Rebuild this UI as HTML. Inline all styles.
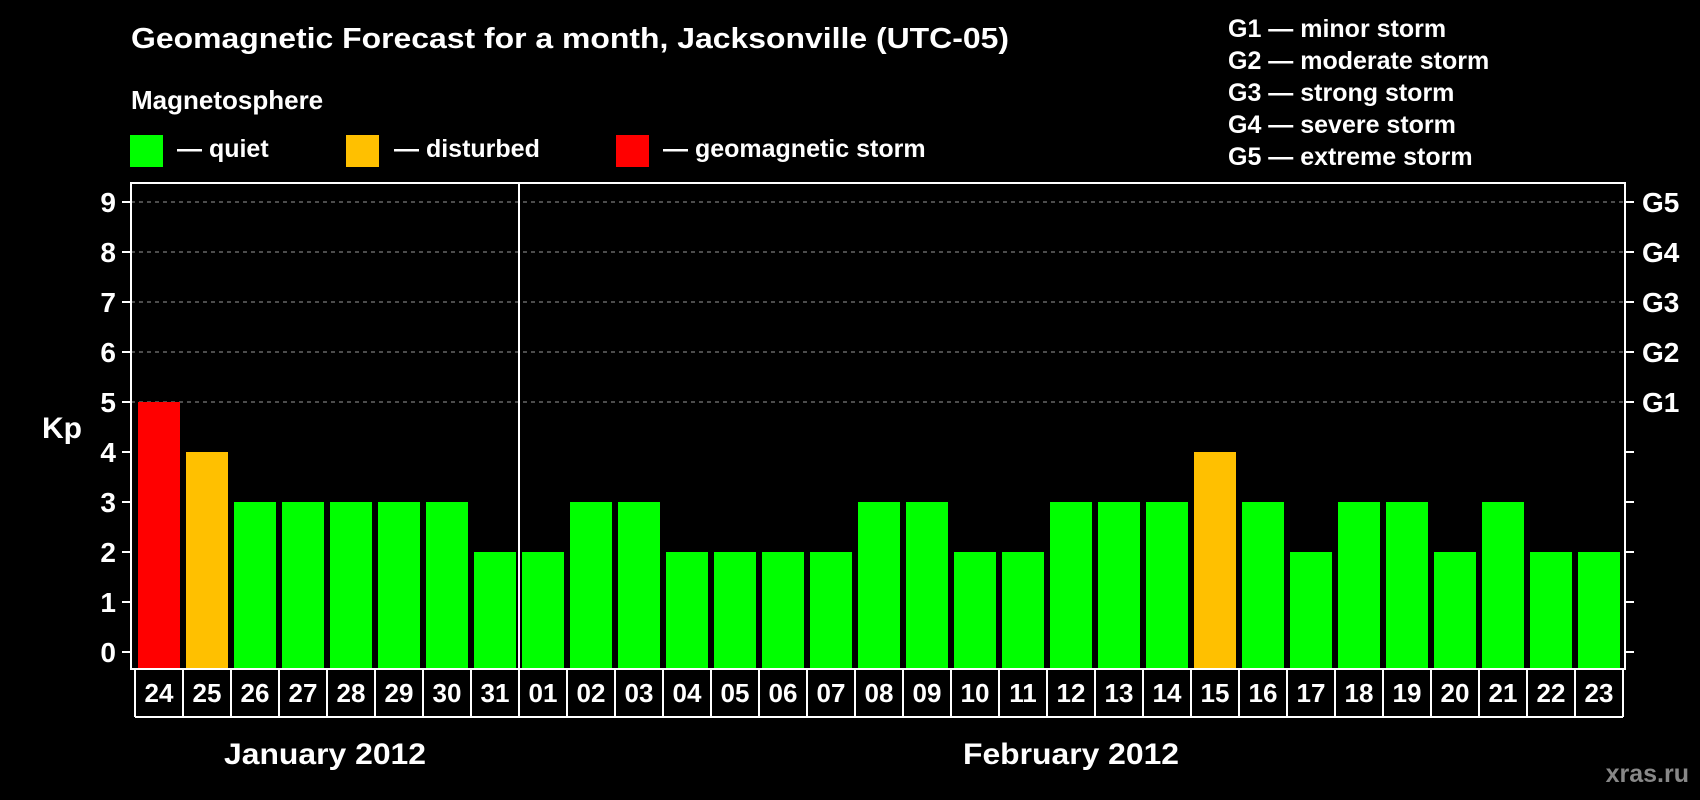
<!DOCTYPE html>
<html><head><meta charset="utf-8"><style>
html,body{margin:0;padding:0;background:#000;}
svg{display:block;font-family:"Liberation Sans",Arial,sans-serif;font-weight:bold;}
</style></head><body>
<svg id="chart" width="1700" height="800" viewBox="0 0 1700 800" xmlns="http://www.w3.org/2000/svg">
<rect width="1700" height="800" fill="#000"/>
<text x="131" y="48" fill="#fff" font-size="29" textLength="878" lengthAdjust="spacingAndGlyphs">Geomagnetic Forecast for a month, Jacksonville (UTC-05)</text>
<text x="131" y="109" fill="#fff" font-size="26">Magnetosphere</text>
<g><rect x="130" y="135" width="33" height="32" fill="#00ff00"/><text x="177" y="157" fill="#fff" font-size="25">— quiet</text></g>
<g><rect x="346" y="135" width="33" height="32" fill="#ffc000"/><text x="394" y="157" fill="#fff" font-size="25">— disturbed</text></g>
<g><rect x="616" y="135" width="33" height="32" fill="#ff0000"/><text x="663" y="157" fill="#fff" font-size="25">— geomagnetic storm</text></g>
<g fill="#fff" font-size="25">
<text x="1228" y="37">G1 — minor storm</text>
<text x="1228" y="69">G2 — moderate storm</text>
<text x="1228" y="101">G3 — strong storm</text>
<text x="1228" y="133">G4 — severe storm</text>
<text x="1228" y="165">G5 — extreme storm</text>
</g>
<text x="42" y="438" fill="#fff" font-size="30">Kp</text>
<g id="grid"></g><g id="bars"></g><g id="axes"></g><g id="xlabels"></g>
<text x="224" y="764" fill="#fff" font-size="30" textLength="202" lengthAdjust="spacingAndGlyphs">January 2012</text>
<text x="963" y="764" fill="#fff" font-size="30" textLength="216" lengthAdjust="spacingAndGlyphs">February 2012</text>
<text x="1689" y="782" fill="#888" font-size="25" text-anchor="end">xras.ru</text>
</svg>
<script>
const days = ["24","25","26","27","28","29","30","31","01","02","03","04","05","06","07","08","09","10","11","12","13","14","15","16","17","18","19","20","21","22","23"];
const kpValues = [5,4,3,3,3,3,3,2,2,3,3,2,2,2,2,3,3,2,2,3,3,3,4,3,2,3,3,2,3,2,2];
const yTicks = [0,1,2,3,4,5,6,7,8,9];
const gLabels = ["","","","","","G1","G2","G3","G4","G5"];
const monthBreakIndex = 8;

(function () {
const NS = "http://www.w3.org/2000/svg";
const plotLeft = 131, plotRight = 1625, plotTop = 183, plotBottom = 669;
const slot0 = 135, slotW = 48, barW = 42;
const yScale = v => 652 - 50 * v;
const xScale = i => slot0 + i * slotW;
function mk(tag, attrs, parent) {
  const e = document.createElementNS(NS, tag);
  for (const k in attrs) e.setAttribute(k, attrs[k]);
  parent.appendChild(e); return e;
}
const grid = document.getElementById('grid'), bars = document.getElementById('bars'),
      axes = document.getElementById('axes'), xl = document.getElementById('xlabels');
yTicks.forEach((t, i) => {
  const y = yScale(t);
  if (t >= 5) {
    const g = mk('line', {x1: plotLeft, x2: plotRight, y1: y, y2: y, stroke: '#999', 'stroke-width': 1, 'stroke-dasharray': '4,4'}, grid);
    
    
  }
  const tl = mk('line', {x1: 122, x2: plotLeft, y1: y, y2: y, stroke: '#fff', 'stroke-width': 2}, axes);
  
  
  const tr = mk('line', {x1: plotRight, x2: 1634, y1: y, y2: y, stroke: '#fff', 'stroke-width': 2}, axes);
  
  
  const lab = mk('text', {x: 116, y: y + 10, fill: '#fff', 'font-size': 28, 'text-anchor': 'end'}, axes);
  lab.textContent = t;
  
  
  if (gLabels[i]) {
    const gl = mk('text', {x: 1642, y: y + 10, fill: '#fff', 'font-size': 28}, axes);
    gl.textContent = gLabels[i];
    
    
  }
});
kpValues.forEach((v, i) => {
  const col = v >= 5 ? '#ff0000' : (v >= 4 ? '#ffc000' : '#00ff00');
  const b = mk('rect', {x: xScale(i) + 3, y: yScale(v), width: barW, height: plotBottom - yScale(v), fill: col}, bars);
  
  
  const t = mk('text', {x: xScale(i) + slotW / 2, y: 702, fill: '#fff', 'font-size': 26, 'text-anchor': 'middle'}, xl);
  t.textContent = days[i];
  
  
});
for (let i = 0; i <= days.length; i++) {
  const l = mk('line', {x1: xScale(i), x2: xScale(i), y1: plotBottom, y2: 717, stroke: '#fff', 'stroke-width': 2}, xl);
  
  
}
const bl = mk('line', {x1: slot0, x2: xScale(days.length), y1: 717, y2: 717, stroke: '#fff', 'stroke-width': 2}, xl);


const frame = mk('rect', {x: plotLeft, y: plotTop, width: plotRight - plotLeft, height: plotBottom - plotTop, fill: 'none', stroke: '#fff', 'stroke-width': 2}, axes);


const dx = xScale(monthBreakIndex);
const div = mk('line', {x1: dx, x2: dx, y1: plotTop, y2: plotBottom, stroke: '#fff', 'stroke-width': 2}, axes);


})();
</script>
</body></html>
